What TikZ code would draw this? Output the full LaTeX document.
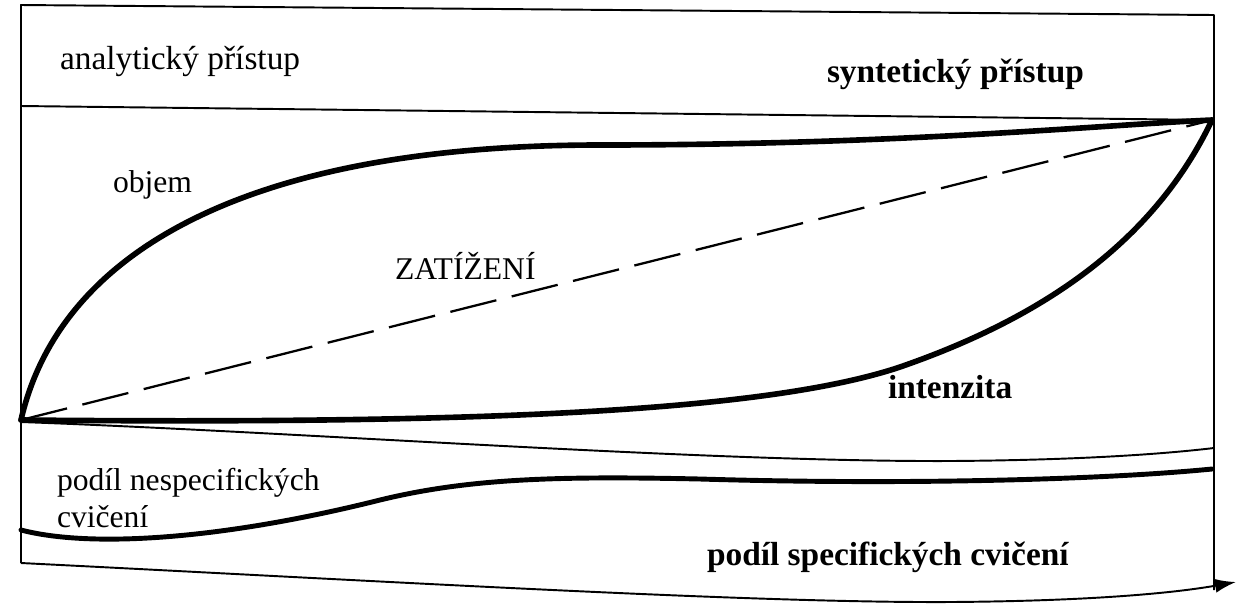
\documentclass[tikz,border=0pt]{standalone}
\usepackage{fontspec}
\setmainfont{Liberation Serif}
\usetikzlibrary{arrows.meta}
\begin{document}
\begin{tikzpicture}[x=0.02cm,y=-0.02cm,inner sep=0pt,outer sep=0pt,
frameline/.style={line width=1.1pt,line join=round},
thickcurve/.style={line width=3.2pt,line cap=round},
lbl/.style={anchor=base west,font=\fontsize{18}{21}\selectfont},
boldlbl/.style={anchor=base west,font=\fontsize{19}{21}\selectfont\bfseries}]
\useasboundingbox (0,0) rectangle (1237,603);
\coordinate (tl) at (21,5);
\coordinate (tr) at (1214,15);
\coordinate (ml) at (21,106);
\coordinate (mr) at (1214,120);
\coordinate (bl) at (21,563);
\coordinate (br) at (1214,590);
\coordinate (lensL) at (21,420);
\coordinate (lensR) at (1212,120);
\coordinate (thinL) at (21,422);
\coordinate (thinR) at (1214,448);
\coordinate (waveL) at (21,530);
\coordinate (waveR) at (1212,469);
\coordinate (axisEnd) at (1236,582);
\draw (60,69) node[lbl,font=\fontsize{19}{21}\selectfont] (analytic) {analytický přístup};
\draw (827,82) node[boldlbl] (synthetic) {syntetický přístup};
\draw (113,192) node[lbl] (volume) {objem};
\draw (395,279) node[lbl] (load) {ZATÍŽENÍ};
\draw (888,398) node[boldlbl] (intensity) {intenzita};
\draw (57,527) node[lbl,align=left] (nonspec) {podíl nespecifických\\cvičení};
\draw (707,565) node[boldlbl] (spec) {podíl specifických cvičení};
% frame
\draw[frameline] (bl) -- (tl) -- (tr) -- (br);
\draw[frameline] (ml) -- (mr);
\draw[frameline,-{Latex[length=12pt,width=8pt]}] (bl) .. controls (400,582) and (750,603) .. (950,602) .. controls (1100,601) and (1180,592) .. (axisEnd);
% lens
\draw[thickcurve] (lensL) .. controls (60,250) and (250,145) .. (600,145) .. controls (900,145) and (1100,125) .. (lensR);
\draw[thickcurve] (lensL) .. controls (450,424) and (760,414) .. (900,367) .. controls (1030,322) and (1150,250) .. (lensR);
\draw[line width=1.3pt,dash pattern=on 27pt off 9pt] (lensL) -- (lensR);
% lower band
\draw[frameline] (thinL) .. controls (300,432) and (700,462) .. (950,461) .. controls (1100,460) and (1180,452) .. (thinR);
\draw[thickcurve,line width=2.8pt] (waveL) .. controls (90,548) and (220,540) .. (380,500) .. controls (470,478) and (560,476) .. (700,479) .. controls (900,485) and (1100,480) .. (waveR);
\end{tikzpicture}
\end{document}
